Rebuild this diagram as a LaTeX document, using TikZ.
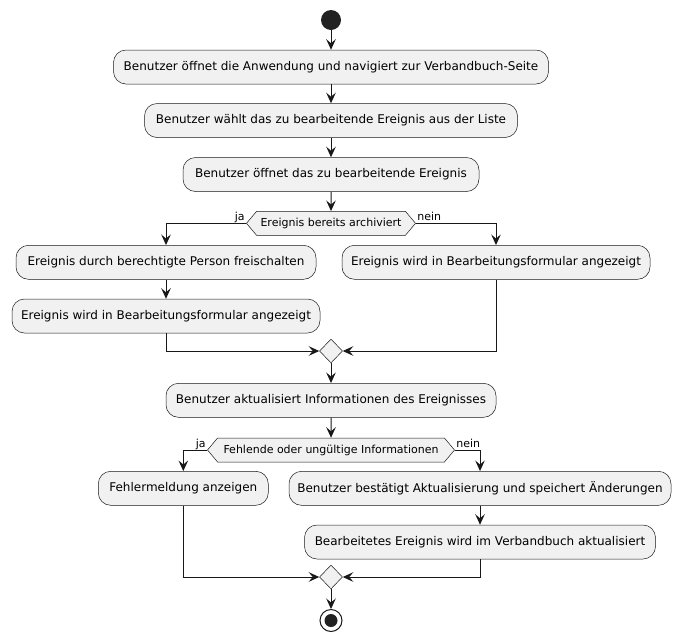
\documentclass[tikz,border=0pt]{standalone}
\usepackage{fontspec}
\setmainfont{DejaVu Sans}
\usepackage{xcolor}
\definecolor{UmlBorder}{HTML}{181818}
\definecolor{UmlFill}{HTML}{F1F1F1}
\definecolor{UmlDot}{HTML}{222222}
\usepackage{tikz}
\usetikzlibrary{arrows.meta, shapes.geometric, shapes.symbols}

\begin{document}
\begin{tikzpicture}[x=1pt, y=-1pt,
	activity/.style={draw=UmlBorder, line width=0.5pt, fill=UmlFill, rounded corners=12.5pt, minimum height=34pt, inner sep=0pt, font=\fontsize{12}{14}\selectfont},
	choice/.style={signal, signal to=west and east, signal pointer angle=100, draw=UmlBorder, line width=0.5pt, fill=UmlFill, minimum height=24pt, inner sep=0pt, font=\fontsize{11}{13}\selectfont},
	merge/.style={diamond, draw=UmlBorder, line width=0.5pt, fill=UmlFill, minimum width=23pt, minimum height=24pt, inner sep=0pt},
	flow/.style={draw=UmlBorder, line width=1pt, -{Stealth[length=10.5pt, width=9.5pt, inset=4pt]}},
	yes/.style={font=\fontsize{11}{13}\selectfont, inner sep=0pt, anchor=base east, xshift=-1pt, yshift=2.5pt},
	no/.style={font=\fontsize{11}{13}\selectfont, inner sep=0pt, anchor=base west, xshift=1pt, yshift=2.5pt}]
			\useasboundingbox (0,0) rectangle (680,641);
			\node[circle, fill=UmlDot, minimum size=20pt, inner sep=0pt] (start) at (331,20) {};
			\node[activity, minimum width=435pt] (open) at (331,67) {Benutzer öffnet die Anwendung und navigiert zur Verbandbuch-Seite};
			\node[activity, minimum width=373pt] (pick) at (331,120.5) {Benutzer wählt das zu bearbeitende Ereignis aus der Liste};
			\node[activity, minimum width=296pt] (edit) at (331,174.5) {Benutzer öffnet das zu bearbeitende Ereignis};
			\node[choice, minimum width=169pt] (archived) at (331,223.3) {Ereignis bereits archiviert};
			\node[activity, minimum width=300pt] (unlock) at (166,262.3) {Ereignis durch berechtigte Person freischalten};
			\node[activity, minimum width=308pt] (formleft) at (166,316) {Ereignis wird in Bearbeitungsformular angezeigt};
			\node[activity, minimum width=308pt] (formright) at (496,262.3) {Ereignis wird in Bearbeitungsformular angezeigt};
			\node[merge] (joinA) at (331,351) {};
			\node[activity, minimum width=330pt] (update) at (331,400.3) {Benutzer aktualisiert Informationen des Ereignisses};
			\node[choice, minimum width=247pt] (invalid) at (331,450) {Fehlende oder ungültige Informationen};
			\node[activity, minimum width=170pt] (error) at (183.3,488.3) {Fehlermeldung anzeigen};
			\node[activity, minimum width=382pt] (confirm) at (480,488.3) {Benutzer bestätigt Aktualisierung und speichert Änderungen};
			\node[activity, minimum width=351pt] (saved) at (480,542) {Bearbeitetes Ereignis wird im Verbandbuch aktualisiert};
			\node[merge] (joinB) at (331,577) {};
			\node[circle, draw=UmlBorder, line width=1pt, fill=white, minimum size=22pt, inner sep=0pt] (stop) at (331,620.5) {};
			\fill[UmlDot] (stop.center) circle (6.5pt);
			\draw[flow] (start) -- (open);
			\draw[flow] (open) -- (pick);
			\draw[flow] (pick) -- (edit);
			\draw[flow] (edit) -- (archived);
			\draw[flow] (archived.west) -| node[yes, pos=0] {ja} (unlock);
			\draw[flow] (archived.east) -| node[no, pos=0] {nein} (formright);
			\draw[flow] (unlock) -- (formleft);
			\draw[flow] (formleft) |- (joinA);
			\draw[flow] (formright) |- (joinA);
			\draw[flow] (joinA) -- (update);
			\draw[flow] (update) -- (invalid);
			\draw[flow] (invalid.west) -| node[yes, pos=0] {ja} (error);
			\draw[flow] (invalid.east) -| node[no, pos=0] {nein} (confirm);
			\draw[flow] (confirm) -- (saved);
			\draw[flow] (error) |- (joinB);
			\draw[flow] (saved) |- (joinB);
			\draw[flow] (joinB) -- (stop);
\end{tikzpicture}
\end{document}
